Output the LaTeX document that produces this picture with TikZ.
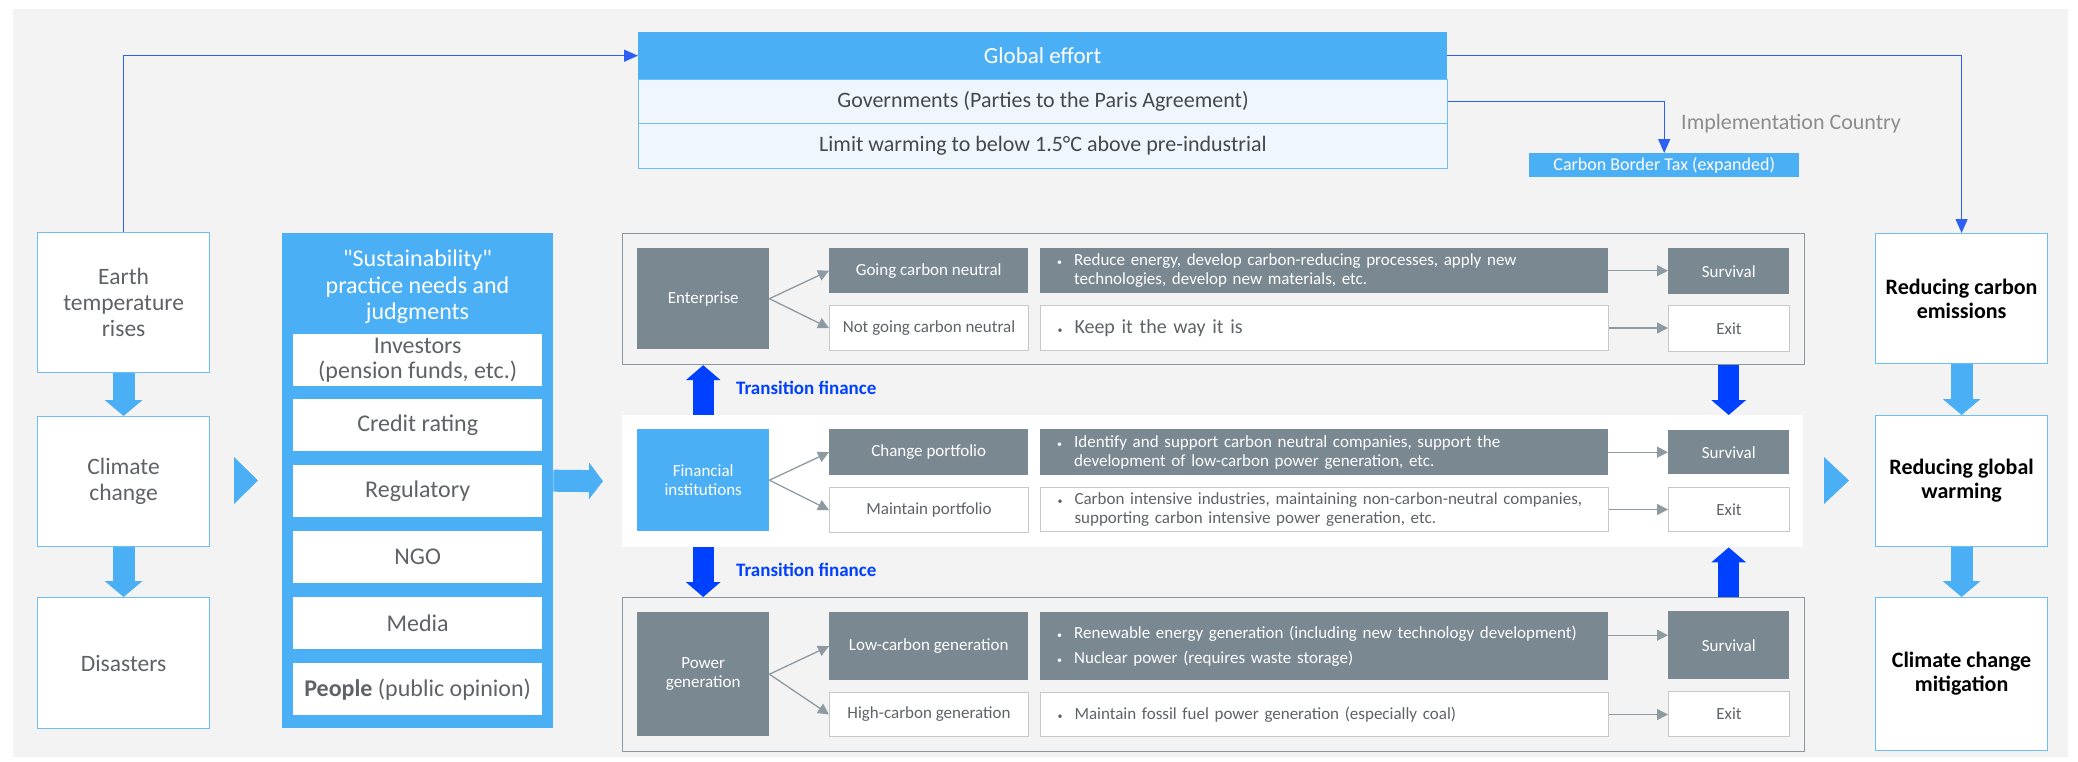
\documentclass[tikz,border=0pt]{standalone}
\usepackage{fontspec}
\setmainfont{Carlito}[Ligatures=TeXOff]
\usetikzlibrary{arrows.meta}
\definecolor{bggray}{RGB}{243,243,243}
\definecolor{skyblue}{RGB}{75,175,245}
\definecolor{paleblue}{RGB}{239,246,253}
\definecolor{edgeblue}{RGB}{110,190,245}
\definecolor{slate}{RGB}{122,136,145}
\definecolor{deepblue}{RGB}{0,64,255}
\definecolor{linkblue}{RGB}{45,95,245}
\definecolor{txtgray}{RGB}{95,98,102}
\definecolor{rowtext}{RGB}{70,72,75}
\definecolor{implgray}{RGB}{140,140,140}
\definecolor{framegray}{RGB}{141,151,158}
\definecolor{cellgray}{RGB}{200,200,200}
\newcommand\fs[2]{\fontsize{#1}{#2}\selectfont}
\newcommand\bul{\makebox[17pt][l]{\fs{10}{10}\textbullet}}

\begin{document}
\begin{tikzpicture}[x=1pt, y=-1pt,
	every node/.style={anchor=north west, inner sep=0pt, align=center},
	wh/.style 2 args={minimum width=#1pt, minimum height=#2pt},
	sidebox/.style={draw=edgeblue, line width=1.2pt, fill=white, text=txtgray, font=\fs{23.5}{26}},
	goalbox/.style={sidebox, text=black, font=\fs{22}{24}\bfseries},
	listbox/.style={fill=white, text=txtgray, font=\fs{24}{25}, wh={249}{52}},
	rowbox/.style={draw=edgeblue, line width=1pt, fill=paleblue, text=rowtext, font=\fs{22}{24}, wh={809}{44}},
	group/.style={draw=framegray, line width=1.2pt, fill=bggray},
	actor/.style={text=white, font=\fs{17}{19}, wh={132}{#1}},
	darkcell/.style={fill=slate, text=white, font=\fs{17}{19}},
	whitecell/.style={draw=cellgray, line width=1pt, fill=white, text=txtgray, font=\fs{17}{19}},
	option/.style={wh={199}{#1}},
	fate/.style={wh={121}{#1}},
	desc/.style={align=left, text width=534pt, inner xsep=17pt, wh={568}{#1}},
	thickarrow/.style={draw=skyblue, line width=22pt, -{Triangle[length=16pt, width=37pt]}},
	finarrow/.style={draw=deepblue, line width=21pt, -{Triangle[length=15pt, width=34pt]}},
	link/.style={draw=linkblue, line width=1.3pt, -{Triangle[length=14pt, width=12pt]}},
	flow/.style={draw=slate!85, line width=1.3pt, -{Triangle[length=11pt, width=11pt]}},
	tfin/.style={anchor=west, text=deepblue, font=\fs{19}{20}\bfseries}]

\fill[white] (0,0) rectangle (2078,761);
\fill[bggray] (13,9) rectangle (2068,757);
\useasboundingbox (0,0) rectangle (2078,761);

\node[group, wh={1182}{131}] (entgrp) at (622,233) {};
\node[fill=white, wh={1181}{132}] (fingrp) at (622,415) {};
\node[group, wh={1182}{154}] (pwrgrp) at (622,597) {};

\node[fill=skyblue, text=white, font=\fs{23}{24}, wh={809}{47}] (glob) at (638,32) {Global effort};
\node[rowbox] (gov) at (638,79) {Governments (Parties to the Paris Agreement)};
\node[rowbox, wh={809}{45}] (lim) at (638,123) {Limit warming to below 1.5°C above pre-industrial};
\node[anchor=west, text=implgray, font=\fs{22}{24}] (impl) at (1681,124) {Implementation Country};
\node[fill=skyblue, text=white, font=\fs{18}{20}, wh={270}{24}] (cbt) at (1529,153) {Carbon Border Tax (expanded)};

\node[sidebox, wh={172}{140}] (earth) at (37,232) {Earth\\temperature\\rises};
\node[sidebox, wh={172}{130}] (clim) at (37,416) {Climate\\change};
\node[sidebox, wh={172}{131}] (dis) at (37,597) {Disasters};

\node[fill=skyblue, wh={271}{495}] (sust) at (282,233) {};
\node[anchor=center, text=white, font=\fs{24}{26.5}] (susttitle) at (417.5,287) {"Sustainability"\\practice needs and\\judgments};
\foreach \ty/\nm/\lbl in {334/inv/{Investors\\(pension funds, etc.)}, 399/cred/Credit rating, 465/reg/Regulatory,
	531/ngo/NGO, 597/media/Media, 663/ppl/{\textbf{People} (public opinion)}}
	\node[listbox] (\nm) at (293,\ty) {\lbl};

\node[goalbox, wh={172}{130}] (rce) at (1875,233) {Reducing carbon\\emissions};
\node[goalbox, wh={172}{131}] (rgw) at (1875,415) {Reducing global\\warming};
\node[goalbox, wh={172}{153}] (ccm) at (1875,597) {Climate change\\mitigation};

\node[actor=101, fill=slate] (ent) at (637,248) {Enterprise};
\node[darkcell, option=45] (gcn) at (829,248) {Going carbon neutral};
\node[whitecell, option=45] (ngcn) at (829,305) {Not going carbon neutral};
\node[darkcell, desc=45] (d1) at (1040,248) {\bul Reduce energy, develop carbon-reducing processes, apply new\\\hspace*{17pt}technologies, develop new materials, etc.};
\node[whitecell, desc=45, font=\fs{20}{22}] (d2) at (1040,305) {\bul Keep it the way it is};
\node[darkcell, fate=46] (s1) at (1668,248) {Survival};
\node[whitecell, fate=46] (x1) at (1668,305) {Exit};

\node[actor=102, fill=skyblue] (fin) at (637,429) {Financial\\institutions};
\node[darkcell, option=46] (cp) at (829,429) {Change portfolio};
\node[whitecell, option=45] (mp) at (829,487) {Maintain portfolio};
\node[darkcell, desc=46] (d3) at (1040,429) {\bul Identify and support carbon neutral companies, support the\\\hspace*{17pt}development of low-carbon power generation, etc.};
\node[whitecell, desc=44] (d4) at (1040,487) {\bul Carbon intensive industries, maintaining non-carbon-neutral companies,\\\hspace*{17pt}supporting carbon intensive power generation, etc.};
\node[darkcell, fate=44] (s3) at (1668,430) {Survival};
\node[whitecell, fate=44] (x3) at (1668,487) {Exit};

\node[actor=124, fill=slate] (pg) at (637,612) {Power\\generation};
\node[darkcell, option=68] (lcg) at (829,612) {Low-carbon generation};
\node[whitecell, option=44] (hcg) at (829,692) {High-carbon generation};
\node[darkcell, desc=68] (d5) at (1040,612) {\bul Renewable energy generation (including new technology development)\\[6pt]\bul Nuclear power (requires waste storage)};
\node[whitecell, desc=44] (d6) at (1040,692) {\bul Maintain fossil fuel power generation (especially coal)};
\node[darkcell, fate=68] (s5) at (1668,611) {Survival};
\node[whitecell, fate=45] (x5) at (1668,691) {Exit};

\node[tfin] (tf1) at (736,388) {Transition finance};
\node[tfin] (tf2) at (736,570) {Transition finance};

\fill[skyblue] (234,457) -- (258,480.5) -- (234,504) -- cycle;
\fill[skyblue] (1824,457) -- (1849,480.5) -- (1824,504) -- cycle;

\draw[thickarrow] (earth) -- (clim);
\draw[thickarrow] (clim) -- (dis);
\draw[thickarrow] (rce) -- (rgw);
\draw[thickarrow] (rgw) -- (ccm);
\draw[thickarrow, -{Triangle[length=14pt, width=36pt]}] (sust.east) -- ([xshift=-19pt]fingrp.west);

\draw[finarrow] (fingrp.north -| ent.south) -- (entgrp.south -| ent.south);
\draw[finarrow] (fingrp.south -| ent.south) -- (pwrgrp.north -| ent.south);
\draw[finarrow] (entgrp.south -| s1.south) -- (fingrp.north -| s1.south);
\draw[finarrow] (pwrgrp.north -| s1.south) -- (fingrp.south -| s1.south);

\draw[link] (earth.north) |- (glob.west);
\draw[link] (glob.east) -| (rce.north);
\draw[link] (gov.east) -| (cbt.north);

\foreach \a/\b in {ent/gcn, ent/ngcn, fin/cp, fin/mp, pg/lcg, pg/hcg}
	\draw[flow] (\a.east) -- (\b.west);
\foreach \a/\b in {d1/s1, d2/x1, d3/s3, d4/x3, d6/x5}
	\draw[flow] (\a.east) -- (\a.east -| \b.west);
\draw[flow] ([yshift=11pt]d5.east) -- ([yshift=11pt]d5.east -| s5.west);
\end{tikzpicture}
\end{document}
